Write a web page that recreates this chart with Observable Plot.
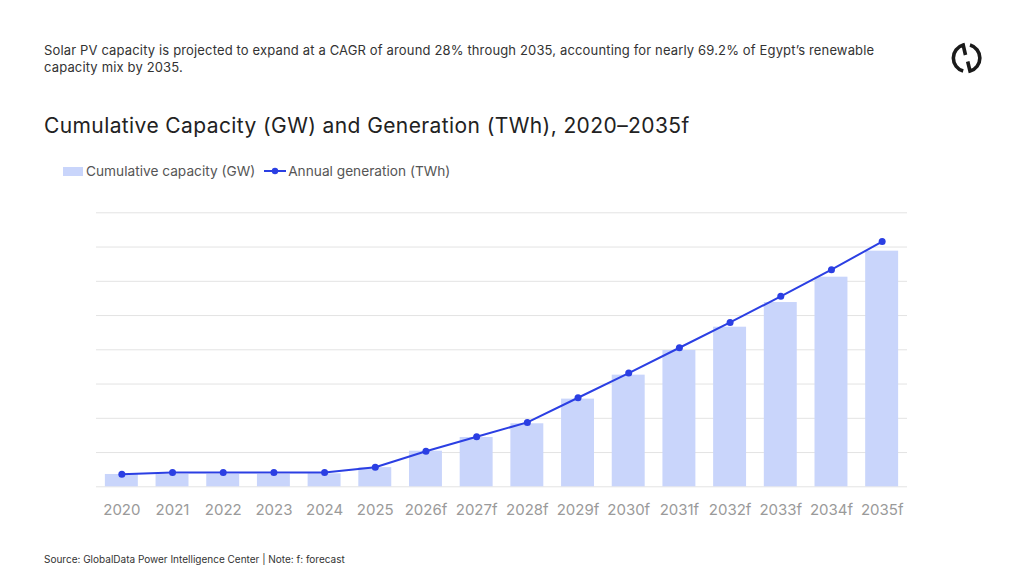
<!DOCTYPE html>
<html><head><meta charset="utf-8">
<script src="https://cdn.jsdelivr.net/npm/d3@7"></script>
<script src="https://cdn.jsdelivr.net/npm/@observablehq/plot@0.6"></script>
<style>
body{margin:0;background:#fff;font-family:Inter, "Noto Sans", sans-serif;}
#page{position:relative;width:1024px;height:574px;overflow:hidden;background:#fff;}
#sub{position:absolute;left:44px;top:42px;width:845px;font-size:13px;line-height:17px;color:#333;letter-spacing:0.15px;}
#title{position:absolute;left:44px;top:113px;font-size:21px;letter-spacing:0.4px;color:#222;white-space:nowrap;}
#legend{position:absolute;left:63px;top:162px;font-size:13.7px;color:#555;display:flex;align-items:center;height:18px;}
#legend .sw{display:inline-block;width:20px;height:9px;background:#c9d5fb;margin-right:3px;}
#legend .ln{display:inline-block;width:22px;height:10px;margin:0 2px 0 9px;}
#chart{position:absolute;left:0;top:190px;}
#source{position:absolute;left:44px;top:553px;font-size:10px;color:#333;}
#logo{position:absolute;left:0;top:0;}
</style></head><body><div id="page">
<div id="sub">Solar PV capacity is projected to expand at a CAGR of around 28% through 2035, accounting for nearly 69.2% of Egypt’s renewable capacity mix by 2035.</div>
<div id="title">Cumulative Capacity (GW) and Generation (TWh), 2020–2035f</div>
<div id="legend"><span class="sw"></span><span>Cumulative capacity (GW)</span><svg class="ln" viewBox="0 0 22 10"><line x1="0" y1="5" x2="22" y2="5" stroke="#2b3fe3" stroke-width="2"/><circle cx="11" cy="5" r="3.2" fill="#2b3fe3"/></svg><span>Annual generation (TWh)</span></div>
<div id="chart"></div>
<div id="source">Source: GlobalData Power Intelligence Center | Note: f: forecast</div>
<svg id="logo" width="1024" height="100" style="pointer-events:none">
  <g fill="none" stroke="#1a1a1a" stroke-width="3.6" stroke-linecap="butt">
    <path d="M 965.5 55 L 963.2 45.1 A 13.5 13.5 0 0 0 963.2 71.1"/>
    <path d="M 967.7 61.5 L 970 71.1 A 13.5 13.5 0 0 0 970 45.1"/>
  </g>
</svg>
</div>
<script>
const years = ["2020","2021","2022","2023","2024","2025","2026f","2027f","2028f","2029f","2030f","2031f","2032f","2033f","2034f","2035f"];
const capacity = [1.8, 1.8, 1.8, 1.8, 1.9, 2.8, 5.2, 7.2, 9.2, 12.8, 16.3, 19.9, 23.3, 26.9, 30.6, 34.4];
const generation = [1.85, 2.1, 2.1, 2.1, 2.1, 2.85, 5.2, 7.3, 9.4, 13.0, 16.6, 20.3, 24.0, 27.8, 31.7, 35.8];
const gridTicks = [0, 5, 10, 15, 20, 25, 30, 35, 40];

const data = years.map((y, i) => ({year: y, capacity: capacity[i], generation: generation[i]}));

const chart = Plot.plot({
  width: 1024,
  height: 340,
  marginLeft: 96,
  marginRight: 117,
  marginTop: 22.3,
  marginBottom: 43.7,
  style: {fontFamily: "Inter, 'Noto Sans', sans-serif", fontSize: "15px", background: "transparent"},
  x: {domain: years, paddingInner: 0.35, paddingOuter: 0.175, round: false, label: null},
  y: {domain: [0, 40], axis: null},
  marks: [
    Plot.gridY(gridTicks, {stroke: "#e3e3e3", strokeOpacity: 1, strokeWidth: 1}),
    Plot.barY(data, {x: "year", y: "capacity", fill: "#c9d5fb"}),
    Plot.lineY(data, {x: "year", y: "generation", stroke: "#2b3fe3", strokeWidth: 2}),
    Plot.dot(data, {x: "year", y: "generation", r: 3.5, fill: "#2b3fe3"}),
    Plot.axisX({tickSize: 0, tickPadding: 18, fill: "#9a9a9a", fontSize: 15, label: null})
  ]
});
document.getElementById("chart").appendChild(chart);
</script>
</body></html>
